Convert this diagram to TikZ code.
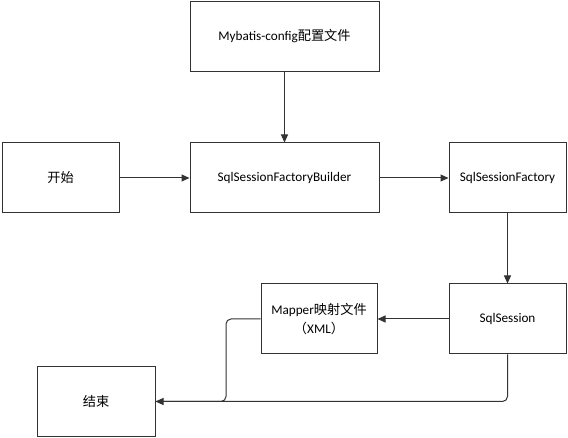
\documentclass[tikz,border=0pt]{standalone}
\usepackage{fontspec}
\setmainfont{Carlito}
\newfontfamily\cjk{Noto Sans CJK SC}
\usetikzlibrary{arrows.meta}
\definecolor{linec}{HTML}{333333}
\tikzset{
  box/.style={draw=linec, line width=1pt, minimum height=70pt, inner sep=0pt, align=center,
    font=\fontsize{13.2}{18.5}\selectfont},
  conn/.style={draw=linec, line width=1pt, -{Triangle[length=8pt,width=7pt]}},
  plain/.style={draw=linec, line width=1pt, rounded corners=5pt}
}
\begin{document}
\begin{tikzpicture}[x=1pt,y=-1pt]
\useasboundingbox (0,0) rectangle (568,438);
\node[box, minimum width=189pt] (cfg) at (284.5,36.5) {Mybatis-config{\cjk 配置文件}};
\node[box, minimum width=189pt] (bld) at (284.5,178) {SqlSessionFactoryBuilder};
\node[box, minimum width=117pt] (start) at (60.5,178) {\cjk 开始};
\node[box, minimum width=117pt] (fac) at (507.5,178) {SqlSessionFactory};
\node[box, minimum width=117pt] (ses) at (507.5,319) {SqlSession};
\node[box, minimum width=116pt] (map) at (319,319) {Mapper{\cjk 映射文件}\\{\cjk （}XML{\cjk ）}};
\node[box, minimum width=118pt] (end) at (96,401.5) {\cjk 结束};
\coordinate (j) at (226,401.5);
\draw[conn] (cfg) -- (bld);
\draw[conn] (start) -- (bld);
\draw[conn] (bld) -- (fac);
\draw[conn] (fac) -- (ses);
\draw[conn] (ses) -- (map);
\draw[plain] (map.west) -| (j) -- (end.east);
\draw[plain, conn, rounded corners=5pt] (ses.south) |- (end.east);
\end{tikzpicture}
\end{document}
